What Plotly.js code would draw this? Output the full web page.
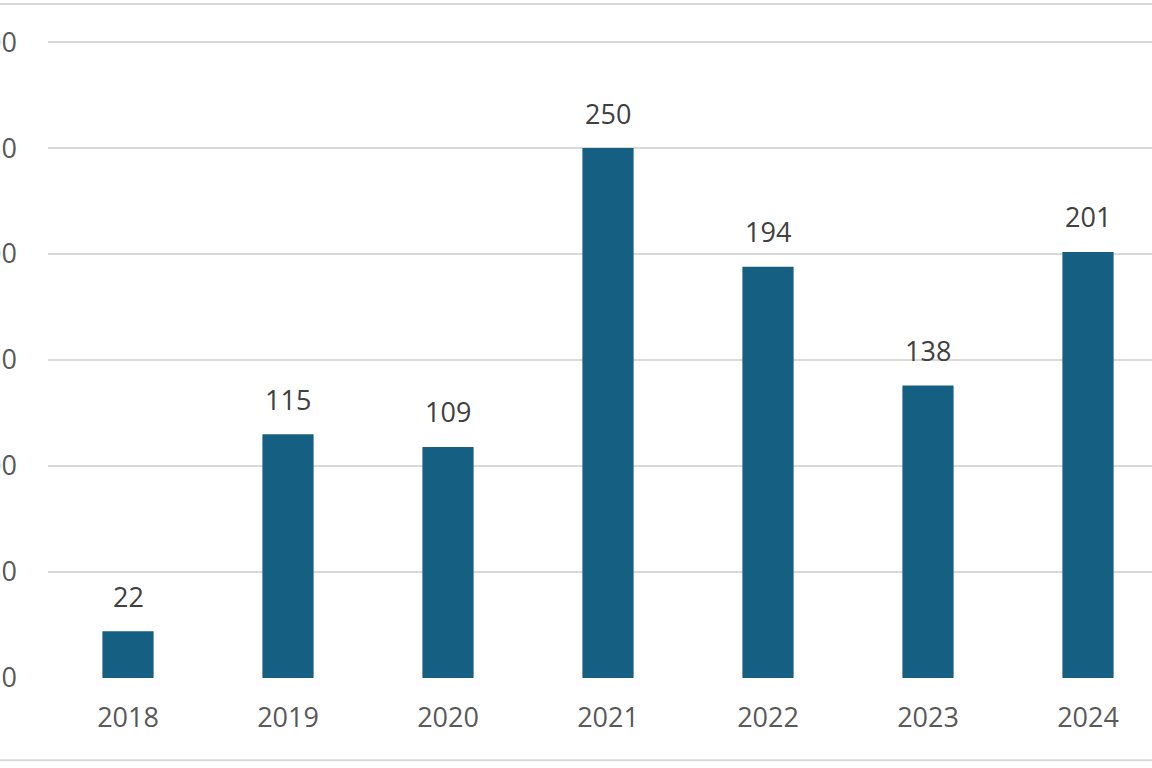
<!DOCTYPE html>
<html>
<head>
<meta charset="utf-8">
<script src="https://cdn.plot.ly/plotly-3.0.1.min.js"></script>
<style>html,body{margin:0;padding:0;background:#fff;}#chart{width:1152px;height:768px;}</style>
</head>
<body>
<div id="chart"></div>
<script>
const years = ['2018', '2019', '2020', '2021', '2022', '2023', '2024'];
const counts = [22, 115, 109, 250, 194, 138, 201];
const yTicks = [0, 50, 100, 150, 200, 250, 300];

const FONT = 'Open Sans, Liberation Sans, sans-serif';

const trace = {
  type: 'bar',
  x: years,
  y: counts,
  width: 0.32,
  marker: {color: '#156082'},
  hoverinfo: 'skip'
};

const annotations = years.map((yr, i) => ({
  x: i, y: counts[i], xref: 'x', yref: 'y',
  text: String(counts[i]), showarrow: false,
  yanchor: 'middle', yshift: 35,
  font: {family: FONT, size: 27, color: '#404040'}
}));

const layout = {
  width: 1152, height: 768,
  margin: {l: 48, r: 0, t: 41, b: 90, pad: 0},
  paper_bgcolor: '#ffffff', plot_bgcolor: '#ffffff',
  showlegend: false,
  xaxis: {
    type: 'category', range: [-0.5, 6.4],
    showgrid: false, zeroline: false, showline: false, ticks: '',
    tickfont: {family: FONT, size: 27, color: '#595959'},
    ticklabelstandoff: 21
  },
  yaxis: {
    range: [0, 300.5], tickvals: yTicks, ticktext: yTicks.map(String),
    showgrid: true, gridcolor: '#d9d9d9', gridwidth: 2,
    zeroline: false, showline: false, ticks: '',
    tickfont: {family: FONT, size: 27, color: '#595959'},
    ticklabelstandoff: 30
  },
  shapes: [
    {type: 'line', xref: 'paper', yref: 'paper', x0: -0.05, x1: 1, y0: 1.058, y1: 1.058, line: {color: '#d9d9d9', width: 2}},
    {type: 'line', xref: 'paper', yref: 'paper', x0: -0.05, x1: 1, y0: -0.129, y1: -0.129, line: {color: '#d9d9d9', width: 2}}
  ],
  annotations: annotations
};

Plotly.newPlot('chart', [trace], layout, {displayModeBar: false, staticPlot: true});
</script>
</body>
</html>
